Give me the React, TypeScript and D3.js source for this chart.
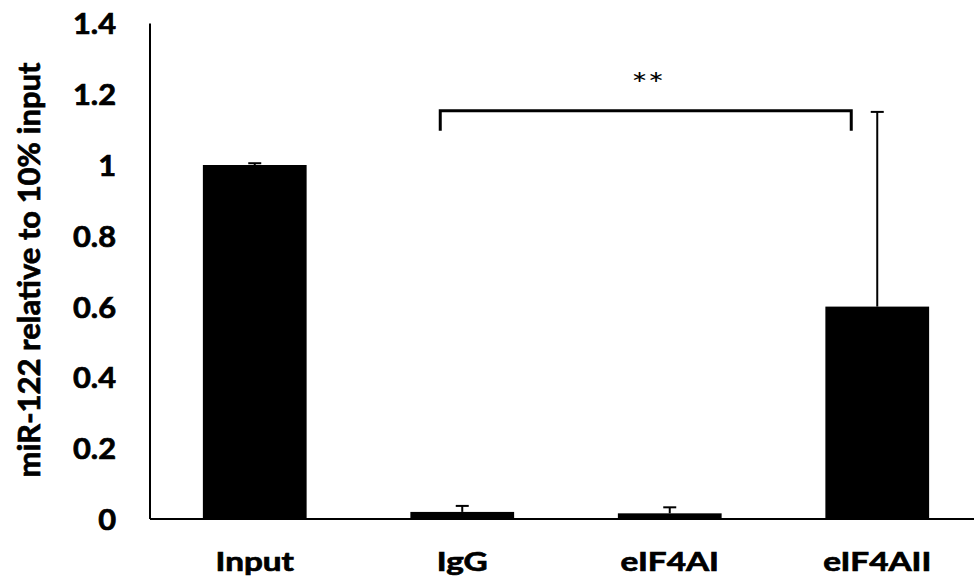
import React from "react";
import * as d3 from "d3";

const categories = ["Input", "IgG", "eIF4AI", "eIF4AII"];
const values = [1.0, 0.02, 0.016, 0.6];
const errors = [0.005, 0.017, 0.017, 0.55];
const yTicks = [0, 0.2, 0.4, 0.6, 0.8, 1, 1.2, 1.4];
const yTitle = "miR-122 relative to 10% input";
const sigFrom = "IgG";
const sigTo = "eIF4AII";
const sigLevel = 1.153;
const sigLabel = "**";

const W = 974;
const H = 581;
const FONT = "Lato, 'Open Sans', sans-serif";

export default function App() {
  const x = d3
    .scaleBand<string>()
    .domain(categories)
    .range([151, 981])
    .paddingInner(0.5)
    .paddingOuter(0.25);
  const y = d3.scaleLinear().domain([0, 1.4]).range([519, 23.4]);
  const bw = x.bandwidth();
  const cap = 13;
  const x0 = 150;

  const bx1 = (x(sigFrom) as number) + bw / 2 - 22;
  const bx2 = (x(sigTo) as number) + bw / 2 - 26;
  const by = y(sigLevel);

  const heavy = { stroke: "#000", strokeWidth: 0.7 };

  return (
    <svg
      width={W}
      height={H}
      style={{ position: "absolute", left: 0, top: 0, background: "#fff" }}
    >
      <rect x={0} y={0} width={W} height={H} fill="#fff" />
      {categories.map((c, i) => (
        <rect
          key={c}
          x={x(c)}
          y={y(values[i])}
          width={bw}
          height={y(0) - y(values[i])}
          fill="#000"
        />
      ))}
      {categories.map((c, i) => {
        const cx = (x(c) as number) + bw / 2;
        const top = y(values[i] + errors[i]);
        return (
          <g key={"e" + c} stroke="#000" strokeWidth={2}>
            <line x1={cx} x2={cx} y1={y(values[i])} y2={top} />
            <line x1={cx - cap / 2} x2={cx + cap / 2} y1={top} y2={top} />
          </g>
        );
      })}
      <line x1={x0} x2={x0} y1={y(1.4)} y2={y(0)} stroke="#000" strokeWidth={2} />
      <line x1={x0} x2={W} y1={y(0)} y2={y(0)} stroke="#000" strokeWidth={2} />
      {yTicks.map((t) => (
        <text
          key={t}
          transform={`translate(116,${y(t)}) scale(1.1,1)`}
          textAnchor="end"
          dominantBaseline="central"
          fontFamily={FONT}
          fontWeight="bold"
          fontSize={28}
          fill="#000"
          {...heavy}
        >
          {d3.format("~g")(t)}
        </text>
      ))}
      {categories.map((c) => (
        <text
          key={"l" + c}
          transform={`translate(${(x(c) as number) + bw / 2},571) scale(1.28,1)`}
          textAnchor="middle"
          fontFamily={FONT}
          fontWeight="bold"
          fontSize={26}
          fill="#000"
          {...heavy}
        >
          {c}
        </text>
      ))}
      <text
        transform={`translate(28,270) rotate(-90)`}
        textAnchor="middle"
        dominantBaseline="central"
        fontFamily={FONT}
        fontWeight="bold"
        fontSize={31}
        fill="#000"
        {...heavy}
      >
        {yTitle}
      </text>
      <path
        d={`M${bx1},${by + 20}V${by}H${bx2}V${by + 20}`}
        fill="none"
        stroke="#000"
        strokeWidth={3}
      />
      <text
        transform={`translate(${(bx1 + bx2) / 2 + 2},95) scale(1.3,1)`}
        textAnchor="middle"
        fontFamily={FONT}
        fontSize={30}
        fill="#000"
      >
        {sigLabel}
      </text>
    </svg>
  );
}
